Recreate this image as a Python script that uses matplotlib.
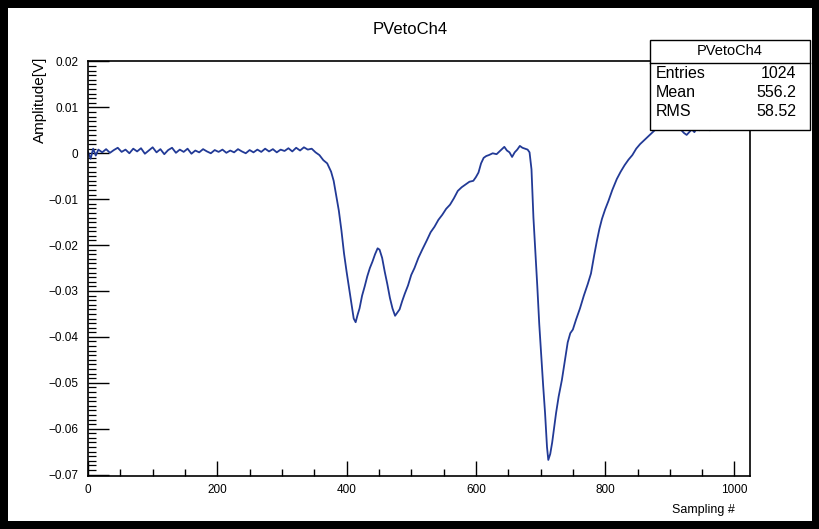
"""PVetoCh4 waveform, redrawn in a ROOT-like style"""

import matplotlib
matplotlib.use("Agg")
import matplotlib.pyplot as plt
from matplotlib.patches import Rectangle
from matplotlib.ticker import MultipleLocator

plt.rcParams["font.family"] = ["Liberation Sans", "DejaVu Sans"]

# waveform (sample index, amplitude in V)
sample = [
    0, 4, 8, 12, 16, 22, 28, 34, 40, 46, 52, 58, 64, 70, 76, 82, 88, 94, 100,
    106, 112, 118, 124, 130, 136, 142, 148, 154, 160, 166, 172, 178, 184, 190,
    196, 202, 208, 214, 220, 226, 232, 238, 244, 250, 256, 262, 268, 274, 280,
    286, 292, 298, 304, 310, 316, 322, 328, 334, 340, 346, 352, 358, 364, 370,
    376, 380, 384, 388, 392, 396, 400, 404, 408, 411, 414, 417, 420, 424, 428,
    432, 436, 440, 444, 448, 451, 455, 459, 463, 467, 471, 475, 478, 482, 486,
    490, 495, 500, 505, 511, 517, 524, 530, 536, 542, 548, 554, 560, 566, 572,
    578, 584, 590, 596, 600, 604, 608, 612, 616, 620, 626, 632, 638, 644, 648,
    652, 656, 660, 664, 668, 672, 676, 680, 683, 686, 689, 692, 695, 698, 701,
    704, 707, 710, 712, 715, 718, 721, 724, 728, 733, 738, 742, 746, 750, 755,
    761, 767, 773, 778, 783, 787, 791, 795, 800, 805, 811, 818, 824, 830, 836,
    842, 848, 854, 860, 866, 872, 878, 884, 890, 896, 902, 908, 914, 918, 922,
    926, 930, 934, 938, 942, 946, 950, 954, 958, 962, 965,
]
amplitude = [
    0.0003, -0.0012, 0.0010, -0.0005, 0.0008, 0.0002, 0.0009, 0.0001, 0.0007,
    0.0012, 0.0003, 0.0008, 0.0000, 0.0010, 0.0004, 0.0011, -0.0001, 0.0006,
    0.0013, 0.0002, 0.0009, -0.0002, 0.0007, 0.0012, 0.0001, 0.0008, 0.0003,
    0.0010, -0.0001, 0.0006, 0.0002, 0.0009, 0.0004, 0.0000, 0.0007, 0.0003,
    0.0008, 0.0001, 0.0006, 0.0002, 0.0009, 0.0004, 0.0000, 0.0007, 0.0002,
    0.0008, 0.0003, 0.0010, 0.0004, 0.0009, 0.0002, 0.0008, 0.0005, 0.0011,
    0.0004, 0.0012, 0.0006, 0.0013, 0.0008, 0.0010, 0.0002, -0.0004, -0.0015,
    -0.0022, -0.0040, -0.0060, -0.0092, -0.0125, -0.0168, -0.0218, -0.0258,
    -0.0295, -0.0333, -0.0360, -0.0368, -0.0352, -0.0338, -0.0310, -0.0290,
    -0.0268, -0.0250, -0.0236, -0.0220, -0.0207, -0.0210, -0.0228, -0.0258,
    -0.0285, -0.0315, -0.0338, -0.0354, -0.0348, -0.0340, -0.0322, -0.0306,
    -0.0288, -0.0265, -0.0250, -0.0228, -0.0210, -0.0190, -0.0172, -0.0160,
    -0.0145, -0.0134, -0.0121, -0.0112, -0.0098, -0.0082, -0.0074, -0.0068,
    -0.0062, -0.0060, -0.0052, -0.0042, -0.0022, -0.0010, -0.0006, -0.0004,
    0.0000, -0.0002, 0.0006, 0.0014, 0.0006, 0.0002, -0.0008, 0.0002, 0.0008,
    0.0016, 0.0012, 0.0010, 0.0008, 0.0002, -0.0035, -0.0140, -0.0215, -0.0290,
    -0.0372, -0.0440, -0.0505, -0.0566, -0.0640, -0.0668, -0.0655, -0.0630,
    -0.0598, -0.0566, -0.0530, -0.0494, -0.0448, -0.0412, -0.0392, -0.0384,
    -0.0362, -0.0338, -0.0310, -0.0285, -0.0262, -0.0222, -0.0192, -0.0165,
    -0.0143, -0.0122, -0.0104, -0.0080, -0.0056, -0.0040, -0.0026, -0.0014,
    -0.0004, 0.0010, 0.0020, 0.0028, 0.0036, 0.0044, 0.0052, 0.0058, 0.0062,
    0.0066, 0.0064, 0.0060, 0.0056, 0.0050, 0.0044, 0.0040, 0.0046, 0.0052,
    0.0046, 0.0056, 0.0050, 0.0060, 0.0052, 0.0058, 0.0050, 0.0055,
]

stat_names = ["Entries", "Mean", "RMS"]
stat_values = ["1024", "556.2", "58.52"]

W, H = 820, 529
fig = plt.figure(figsize=(W / 100, H / 100), dpi=100, facecolor="black")
# white canvas inside the black border
fig.patches.append(Rectangle((8 / W, 8 / H), 804 / W, 513 / H,
                             transform=fig.transFigure, facecolor="white",
                             edgecolor="none", zorder=-10))

ax = fig.add_axes([88 / W, 1 - 476 / H, 662 / W, 415 / H])
ax.set_zorder(1)
ax.set_facecolor("white")
ax.plot(sample, amplitude, color="#223a96", linewidth=1.3)

ax.set_xlim(0, 1024)
ax.set_ylim(-0.0703, 0.0201)
ax.xaxis.set_major_locator(MultipleLocator(200))
ax.xaxis.set_minor_locator(MultipleLocator(50))
ax.yaxis.set_major_locator(MultipleLocator(0.01))
ax.yaxis.set_minor_locator(MultipleLocator(0.001))
ax.yaxis.set_major_formatter(plt.FuncFormatter(
    lambda v, p: "0" if abs(v) < 1e-9 else f"{v:.2f}".replace("-", "\u2212")))
ax.tick_params(axis="x", which="major", direction="in", length=11, width=1.0,
               labelsize=8.5, pad=6)
ax.tick_params(axis="x", which="minor", direction="in", length=5, width=1.0)
ax.tick_params(axis="y", which="major", direction="in", length=15, width=1.0,
               labelsize=8.5, pad=7)
ax.tick_params(axis="y", which="minor", direction="in", length=6, width=0.9)
for s in ax.spines.values():
    s.set_linewidth(1.2)

fig.text(410 / W, 1 - 30 / H, "PVetoCh4", ha="center", va="center", fontsize=12)
fig.text(40 / W, 1 - 57 / H, "Amplitude[V]", rotation=90, ha="center", va="top",
         fontsize=11)
fig.text(735 / W, 1 - 510 / H, "Sampling #", ha="right", va="center", fontsize=9)

# stats box
bx0, bx1, by0, by1 = 650, 810, 40, 130
fig.patches.append(Rectangle((bx0 / W, 1 - by1 / H), (bx1 - bx0) / W,
                             (by1 - by0) / H, transform=fig.transFigure,
                             facecolor="white", edgecolor="black",
                             linewidth=1.0, zorder=5))
fig.lines.append(plt.Line2D([bx0 / W, bx1 / W], [1 - 63 / H, 1 - 63 / H],
                            transform=fig.transFigure, color="black",
                            linewidth=1.0, zorder=6))
fig.text((bx0 + bx1) / 2 / W, 1 - 51 / H, "PVetoCh4", ha="center",
         va="center", fontsize=10.5, zorder=7)
for i, (name, val) in enumerate(zip(stat_names, stat_values)):
    yy = 1 - (74 + i * 18.5) / H
    fig.text(656 / W, yy, name, ha="left", va="center", fontsize=11.5, zorder=7)
    fig.text(796 / W, yy, val, ha="right", va="center", fontsize=11.5, zorder=7)

plt.savefig("out.png", dpi=100, facecolor=fig.get_facecolor())
